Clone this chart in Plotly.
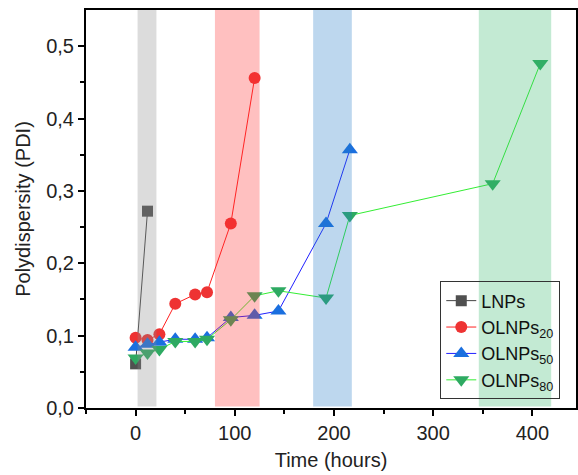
import plotly.graph_objects as go

# Data
t_lnp = [0, 12]
pdi_lnp = [0.061, 0.272]

t_20 = [0, 12, 24, 40, 60, 72, 96, 120]
pdi_20 = [0.097, 0.094, 0.102, 0.144, 0.157, 0.160, 0.255, 0.456]

t_50 = [0, 12, 24, 40, 60, 72, 96, 120, 144, 192, 216]
pdi_50 = [0.084, 0.088, 0.091, 0.095, 0.095, 0.097, 0.125, 0.128, 0.134, 0.255, 0.357]

t_80 = [0, 12, 24, 40, 60, 72, 96, 120, 144, 192, 216, 360, 408]
pdi_80 = [0.069, 0.076, 0.081, 0.092, 0.092, 0.095, 0.122, 0.155, 0.162, 0.152, 0.266, 0.310, 0.476]

x_ticks = [0, 100, 200, 300, 400]
y_ticks = [0, 0.1, 0.2, 0.3, 0.4, 0.5]

bands = [(2, 21, "rgba(138,138,138,0.3)"),
         (80, 125, "rgba(255,45,45,0.3)"),
         (179, 218, "rgba(38,122,198,0.3)"),
         (346, 419, "rgba(55,185,108,0.3)")]

font = "Liberation Sans, Arial, sans-serif"

fig = go.Figure()
fig.add_trace(go.Scatter(x=t_lnp, y=pdi_lnp, mode="lines+markers", name="LNPs",
                         line=dict(color="#444444", width=1),
                         marker=dict(symbol="square", size=11, color="#505050")))
fig.add_trace(go.Scatter(x=t_20, y=pdi_20, mode="lines+markers", name="OLNPs<sub>20</sub>",
                         line=dict(color="#ff2020", width=1),
                         marker=dict(symbol="circle", size=12, color="#ee3333")))
fig.add_trace(go.Scatter(x=t_50, y=pdi_50, mode="lines+markers", name="OLNPs<sub>50</sub>",
                         line=dict(color="#2020ff", width=1),
                         marker=dict(symbol="triangle-up", size=14, color="#1a6fdf")))
fig.add_trace(go.Scatter(x=t_80, y=pdi_80, mode="lines+markers", name="OLNPs<sub>80</sub>",
                         line=dict(color="#33ee33", width=1),
                         marker=dict(symbol="triangle-down", size=14, color="#2eaa62")))

for x0, x1, c in bands:
    fig.add_shape(type="rect", xref="x", yref="y", x0=x0, x1=x1, y0=0.002, y1=0.55,
                  fillcolor=c, line=dict(width=0), layer="above")

fig.update_layout(
    width=578, height=475,
    margin=dict(l=86, r=0, t=10, b=67),
    plot_bgcolor="white", paper_bgcolor="white",
    separators=",.",
    font=dict(family=font, size=20, color="#222222"),
    showlegend=True,
    legend=dict(x=0.723, y=0.318, xanchor="left", yanchor="top",
                bgcolor="rgba(0,0,0,0)", bordercolor="#333333", borderwidth=1,
                font=dict(size=18, color="#111111"), tracegroupgap=0,
                itemsizing="trace"),
)
fig.update_xaxes(range=[-50, 444], tickvals=x_ticks,
                 ticks="outside", ticklen=6, tickwidth=1.5, tickcolor="black",
                 tickfont=dict(size=20),
                 minor=dict(tickvals=[-50, 50, 150, 250, 350], ticks="outside", ticklen=4, tickcolor="black"),
                 showline=True, linewidth=2, linecolor="black", mirror=True,
                 showgrid=False, zeroline=False,
                 title=dict(text="Time (hours)", standoff=10, font=dict(size=20)))
fig.update_yaxes(range=[0, 0.55], tickvals=y_ticks, tickformat=".1f",
                 ticks="outside", ticklen=6, tickwidth=1.5, tickcolor="black",
                 tickfont=dict(size=20),
                 minor=dict(tickvals=[0.05, 0.15, 0.25, 0.35, 0.45], ticks="outside", ticklen=4, tickcolor="black"),
                 showline=True, linewidth=2, linecolor="black", mirror=True,
                 showgrid=False, zeroline=False,
                 title=dict(text="Polydispersity (PDI)", standoff=10, font=dict(size=20)))

fig.write_html("out.html")
